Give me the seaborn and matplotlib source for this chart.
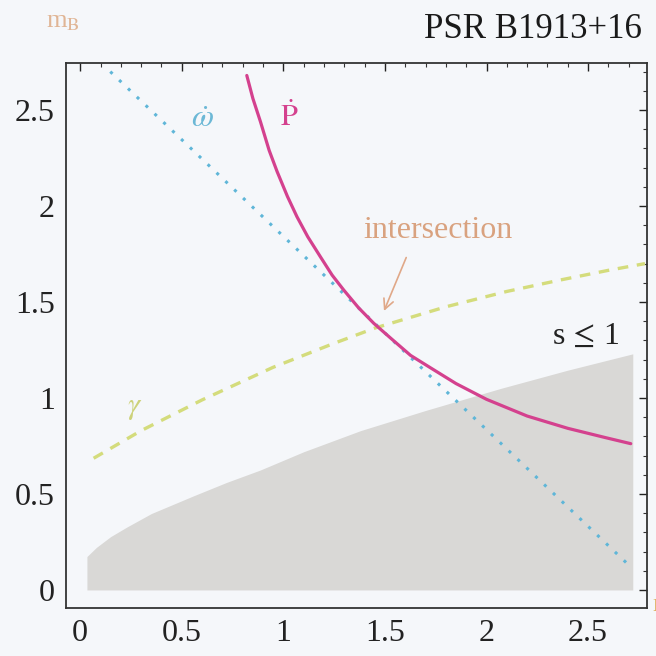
import numpy as np
import pandas as pd
import matplotlib
matplotlib.use("Agg")
import matplotlib.pyplot as plt
import seaborn as sns

# ---- data ----
omega_x = [0.148, 2.69]
omega_y = [2.70, 0.14]

pdot_x = [0.82, 0.85, 0.887, 0.93, 0.969, 1.02, 1.067, 1.12, 1.182, 1.24, 1.297,
          1.37, 1.445, 1.53, 1.626, 1.72, 1.85, 2.00, 2.20, 2.40, 2.58, 2.71]
pdot_y = [2.68, 2.56, 2.44, 2.29, 2.18, 2.05, 1.944, 1.84, 1.736, 1.64, 1.5625,
          1.47, 1.389, 1.31, 1.222, 1.16, 1.075, 0.993, 0.906, 0.842, 0.795, 0.762]

gamma_x = [0.066, 0.30, 0.60, 0.95, 1.25, 1.453, 1.80, 2.10, 2.365, 2.60, 2.78]
gamma_y = [0.686, 0.83, 0.99, 1.16, 1.285, 1.365, 1.475, 1.555, 1.615, 1.665, 1.70]

region_x = [0.033, 0.08, 0.15, 0.23, 0.35, 0.557, 0.72, 0.887, 1.10, 1.38, 1.70,
            2.07, 2.40, 2.72]
region_y = [0.174, 0.222, 0.278, 0.328, 0.398, 0.49, 0.56, 0.625, 0.72, 0.83, 0.935,
            1.05, 1.145, 1.23]

xticks = [0, 0.5, 1, 1.5, 2, 2.5]
yticks = [0, 0.5, 1, 1.5, 2, 2.5]
xtick_labels = ["0", "0.5", "1", "1.5", "2", "2.5"]
ytick_labels = ["0", "0.5", "1", "1.5", "2", "2.5"]

# ---- style ----
sns.set_theme(style="white")
plt.rcParams["font.family"] = ["Liberation Serif", "DejaVu Serif"]
plt.rcParams["mathtext.fontset"] = "stix"

bg = "#f5f7fa"
fig = plt.figure(figsize=(6.56, 6.56), dpi=100, facecolor=bg)
ax = fig.add_axes([66 / 656, 1 - 608 / 656, (647 - 66) / 656, (608 - 63) / 656])
ax.set_facecolor(bg)

# shaded s <= 1 region
ax.fill_between(region_x, 0, region_y, color="#d9d8d6", lw=0, zorder=1)

df_o = pd.DataFrame({"x": omega_x, "y": omega_y})
df_p = pd.DataFrame({"x": pdot_x, "y": pdot_y})
df_g = pd.DataFrame({"x": gamma_x, "y": gamma_y})

sns.lineplot(data=df_o, x="x", y="y", ax=ax, color="#5fb6d8", lw=2.2,
             linestyle=(0, (1, 3)), sort=False, zorder=3)
sns.lineplot(data=df_g, x="x", y="y", ax=ax, color="#d4dc7c", lw=2.4,
             linestyle=(0, (3.2, 2.6)), sort=False, zorder=3)
sns.lineplot(data=df_p, x="x", y="y", ax=ax, color="#d4418e", lw=2.3,
             sort=False, zorder=4)

ax.set_xlim(-0.07, 2.79)
ax.set_ylim(-0.094, 2.745)
ax.set_xlabel("")
ax.set_ylabel("")

ax.set_xticks(xticks)
ax.set_xticklabels(xtick_labels)
ax.set_yticks(yticks)
ax.set_yticklabels(ytick_labels)
ax.set_xticks(np.arange(-0.0, 2.75, 0.1), minor=True)
ax.set_yticks(np.arange(-0.0, 2.75, 0.1), minor=True)
ax.tick_params(which="major", direction="in", length=6, width=1.0,
               top=True, right=True, labelsize=23, colors="#222222", pad=8)
ax.tick_params(which="minor", direction="in", length=3, width=0.8,
               top=True, right=True, colors="#333333")
for s in ax.spines.values():
    s.set_visible(True)
    s.set_color("#333333")
    s.set_linewidth(1.3)

# labels
ax.text(0.60, 2.45, r"$\dot{\omega}$", color="#6cb8d6", fontsize=23,
        ha="center", va="center")
ax.text(1.03, 2.46, r"$\dot{\mathrm{P}}$", color="#d4418e", fontsize=22,
        ha="center", va="center")
ax.text(0.27, 0.95, r"$\gamma$", color="#cdd27a", fontsize=22,
        ha="center", va="center")
ax.text(2.49, 1.32, r"s$\,\leq\,$1", color="#222222", fontsize=23,
        ha="center", va="center")
ax.text(1.76, 1.875, "intersection", color="#d9a27f", fontsize=23,
        ha="center", va="center")
ax.annotate("", xy=(1.49, 1.44), xytext=(1.61, 1.745),
            arrowprops=dict(arrowstyle="->", color="#e0a888", lw=1.2,
                            mutation_scale=18))

fig.text(642 / 656, 1 - 30 / 656, "PSR B1913+16", fontsize=25,
         color="#1a1a1a", ha="right", va="center")
fig.text(63 / 656, 1 - 22 / 656, r"m$_{\mathrm{B}}$", fontsize=19,
         color="#e0b595", ha="center", va="center")
fig.text(652 / 656, 1 - 605 / 656, "m", fontsize=19, color="#e0b060",
         ha="left", va="center")

fig.savefig("out.png", dpi=100, facecolor=bg)
